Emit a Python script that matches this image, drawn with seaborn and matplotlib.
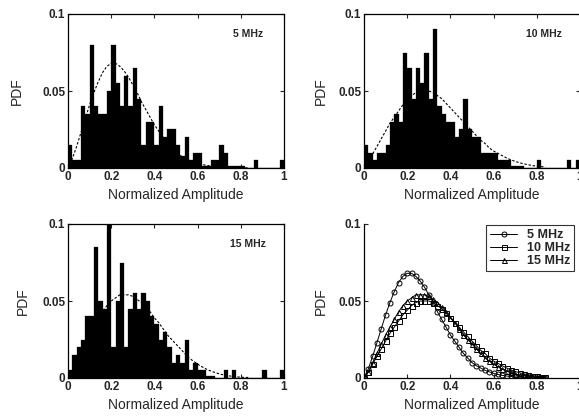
import numpy as np
import pandas as pd
import matplotlib
matplotlib.use("Agg")
import matplotlib.pyplot as plt
import seaborn as sns

# histogram bins (width 0.02) and bar heights
bin_edges = [round(0.02 * i, 2) for i in range(51)]
bin_centers = [round(e + 0.01, 3) for e in bin_edges[:-1]]

hist_5mhz = [0.015, 0.005, 0.005, 0.040, 0.035, 0.080, 0.040, 0.035, 0.035, 0.050,
             0.080, 0.055, 0.040, 0.060, 0.040, 0.065, 0.045, 0.015, 0.030, 0.030,
             0.015, 0.040, 0.020, 0.025, 0.025, 0.015, 0.008, 0.020, 0.005, 0.010,
             0.010, 0.001, 0.001, 0.005, 0.005, 0.015, 0.010, 0.001, 0.001, 0.001,
             0.001, 0.000, 0.000, 0.005, 0.000, 0.000, 0.000, 0.000, 0.000, 0.005]
hist_10mhz = [0.015, 0.010, 0.005, 0.010, 0.010, 0.015, 0.030, 0.035, 0.030, 0.075,
              0.065, 0.045, 0.065, 0.055, 0.075, 0.045, 0.090, 0.040, 0.035, 0.030,
              0.030, 0.020, 0.025, 0.045, 0.025, 0.020, 0.020, 0.010, 0.010, 0.010,
              0.010, 0.005, 0.005, 0.005, 0.001, 0.001, 0.001, 0.000, 0.000, 0.000,
              0.005, 0.000, 0.000, 0.000, 0.000, 0.000, 0.000, 0.005, 0.000, 0.005]
hist_15mhz = [0.005, 0.015, 0.020, 0.025, 0.040, 0.040, 0.085, 0.050, 0.045, 0.100,
              0.020, 0.050, 0.075, 0.020, 0.045, 0.055, 0.045, 0.055, 0.050, 0.040,
              0.035, 0.025, 0.030, 0.020, 0.010, 0.015, 0.010, 0.025, 0.005, 0.010,
              0.005, 0.005, 0.001, 0.001, 0.000, 0.000, 0.005, 0.000, 0.005, 0.000,
              0.000, 0.000, 0.000, 0.000, 0.000, 0.005, 0.000, 0.000, 0.000, 0.005]

# fitted PDF curves (also plotted as dashed lines on the histograms)
fit_x = [round(0.02 * i, 2) for i in range(43)]
fit_5mhz = [0.000, 0.006, 0.014, 0.023, 0.032, 0.041, 0.049, 0.056, 0.062, 0.066,
            0.068, 0.068, 0.066, 0.063, 0.059, 0.054, 0.049, 0.043, 0.038, 0.033,
            0.028, 0.024, 0.020, 0.016, 0.013, 0.010, 0.008, 0.0065, 0.005, 0.004,
            0.003, 0.0023, 0.0017, 0.0013, 0.0010, 0.0007, 0.0005, 0.0004, 0.0003,
            0.0002, 0.0001, 0.0001, 0.0001]
fit_10mhz = [0.000, 0.004, 0.009, 0.014, 0.019, 0.024, 0.029, 0.033, 0.037, 0.041,
             0.044, 0.047, 0.049, 0.050, 0.050, 0.050, 0.049, 0.047, 0.045, 0.042,
             0.039, 0.036, 0.033, 0.030, 0.027, 0.024, 0.021, 0.018, 0.016, 0.013,
             0.011, 0.0095, 0.008, 0.0065, 0.0053, 0.0043, 0.0034, 0.0027, 0.0021,
             0.0016, 0.0012, 0.0009, 0.0007]
fit_15mhz = [0.000, 0.004, 0.010, 0.016, 0.022, 0.028, 0.033, 0.038, 0.043, 0.047,
             0.050, 0.052, 0.054, 0.054, 0.054, 0.053, 0.051, 0.049, 0.046, 0.043,
             0.039, 0.036, 0.032, 0.028, 0.025, 0.022, 0.019, 0.016, 0.013, 0.011,
             0.009, 0.0073, 0.0058, 0.0046, 0.0036, 0.0027, 0.0020, 0.0015, 0.0011,
             0.0008, 0.0005, 0.0004, 0.0003]

freq_labels = ["5 MHz", "10 MHz", "15 MHz"]
x_ticks = [0, 0.2, 0.4, 0.6, 0.8, 1]
x_ticklabels = ["0", "0.2", "0.4", "0.6", "0.8", "1"]
y_ticks = [0, 0.05, 0.1]
y_ticklabels = ["0", "0.05", "0.1"]

sns.set_style("white")
plt.rcParams['font.family'] = ['Liberation Sans', 'DejaVu Sans']


def style_axes(ax, box=True, ypad=10):
    ax.set_xlim(0, 1)
    ax.set_ylim(0, 0.1)
    ax.set_xticks(x_ticks)
    ax.set_xticklabels(x_ticklabels, fontsize=8.5, fontweight='bold')
    ax.set_yticks(y_ticks)
    ax.set_yticklabels(y_ticklabels, fontsize=8.5, fontweight='bold')
    ax.tick_params(direction='in', length=3, width=0.8, pad=2, top=box, right=box,
                   bottom=True, left=True)
    for side in ['left', 'bottom', 'top', 'right']:
        ax.spines[side].set_color('k')
        ax.spines[side].set_linewidth(0.9)
    if not box:
        ax.spines['top'].set_visible(False)
        ax.spines['right'].set_visible(False)
    ax.set_xlabel('Normalized Amplitude', fontsize=10, labelpad=4)
    ax.set_ylabel('PDF', fontsize=10, labelpad=ypad)


fig = plt.figure(figsize=(5.79, 4.2), dpi=100)
w, h = 216 / 579, 154 / 420
positions = [(68 / 579, 1 - 168 / 420), (364 / 579, 1 - 168 / 420),
             (68 / 579, 1 - 378 / 420), (364 / 579, 1 - 378 / 420)]
axes = [fig.add_axes([px, py, w, h]) for px, py in positions]
label_pads = [13, 7, 9, 7]

hists = [hist_5mhz, hist_10mhz, hist_15mhz]
fits = [fit_5mhz, fit_10mhz, fit_15mhz]
for i, (ax, heights, fit, label) in enumerate(zip(axes[:3], hists, fits, freq_labels)):
    df = pd.DataFrame({'amp': bin_centers, 'pdf': heights})
    sns.histplot(data=df, x='amp', weights='pdf', bins=bin_edges, ax=ax,
                 color='k', alpha=1, edgecolor='k', linewidth=0.2)
    sns.lineplot(x=fit_x, y=fit, ax=ax, color='k', linewidth=0.8,
                 linestyle=(0, (2.2, 1.6)))
    style_axes(ax, ypad=label_pads[i])
    ax.text(0.835, 0.087, label, fontsize=7.5, fontweight='bold', ha='center', va='center')

ax = axes[3]
for fit, label, mk in zip(fits, freq_labels, ['o', 's', '^']):
    sns.lineplot(x=fit_x, y=fit, ax=ax, color='k', linewidth=0.7, marker=mk,
                 markersize=3.6, markerfacecolor='none', markeredgecolor='k',
                 markeredgewidth=0.7, label=label)
style_axes(ax, box=False, ypad=label_pads[3])
leg = ax.legend(loc='upper right', bbox_to_anchor=(0.98, 1.0), fontsize=9,
                frameon=True, fancybox=False, edgecolor='k', handlelength=2.2,
                borderpad=0.3, labelspacing=0.1, handletextpad=0.8,
                borderaxespad=0.1)
leg.get_frame().set_linewidth(0.8)
for t in leg.get_texts():
    t.set_fontweight('bold')

fig.savefig('out.png', dpi=100)
